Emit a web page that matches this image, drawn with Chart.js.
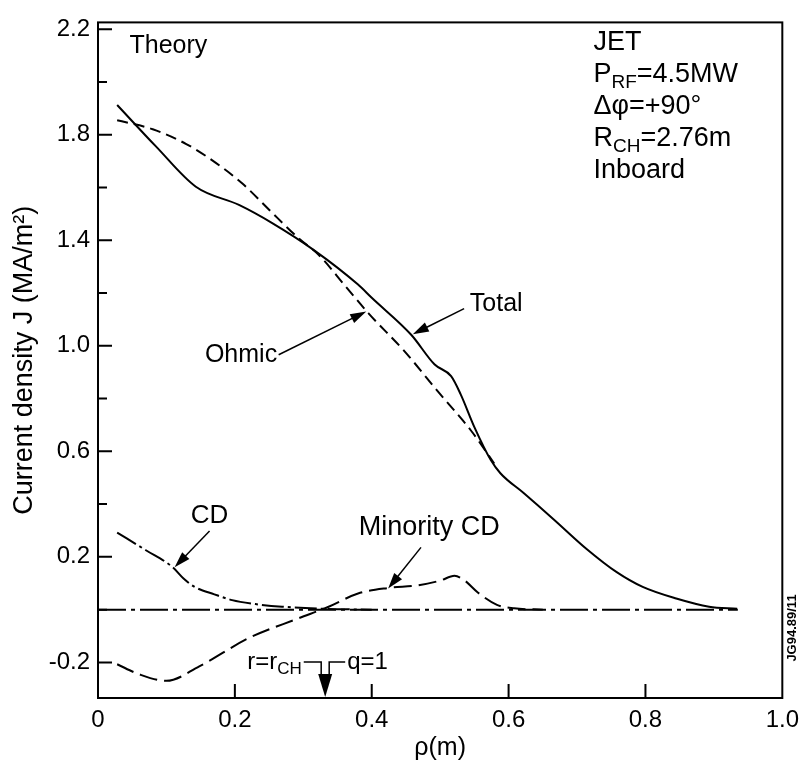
<!DOCTYPE html>
<html>
<head>
<meta charset="utf-8">
<script src="https://cdn.jsdelivr.net/npm/chart.js@4.4.0/dist/chart.umd.min.js"></script>
<style>
html,body{margin:0;padding:0;background:#fff;}
canvas{display:block;}
</style>
</head>
<body>
<canvas id="grafica" width="807" height="765"></canvas>
<script>
const FUENTE = '"Liberation Sans", Arial, sans-serif';

// ejes
const xTicks = [0, 0.2, 0.4, 0.6, 0.8, 1.0];
const yLabels = [-0.2, 0.2, 0.6, 1.0, 1.4, 1.8, 2.2];
const yMinor = [0, 0.4, 0.8, 1.2, 1.6, 2.0];

// Total (solida)
const rhoTotal = [0.028, 0.085, 0.143, 0.206, 0.254, 0.317, 0.38, 0.40, 0.458, 0.492, 0.516, 0.530, 0.550, 0.574, 0.588, 0.622, 0.666, 0.714, 0.758, 0.796, 0.845, 0.893, 0.934];
const jTotal   = [1.913, 1.755, 1.603, 1.534, 1.466, 1.360, 1.232, 1.182, 1.041, 0.929, 0.885, 0.816, 0.692, 0.567, 0.517, 0.442, 0.342, 0.230, 0.142, 0.086, 0.042, 0.011, 0.003];

// Ohmic (discontinua)
const rhoOhmic = [0.028, 0.080, 0.129, 0.167, 0.211, 0.250, 0.293, 0.322, 0.361, 0.395, 0.448, 0.496, 0.545, 0.579];
const jOhmic   = [1.855, 1.821, 1.765, 1.703, 1.615, 1.516, 1.408, 1.346, 1.228, 1.124, 0.979, 0.829, 0.679, 0.554];

// CD (raya-punto)
const rhoCD = [0.028, 0.07, 0.109, 0.125, 0.142, 0.17, 0.196, 0.23, 0.269, 0.332, 0.40];
const jCD   = [0.292, 0.225, 0.161, 0.118, 0.085, 0.058, 0.036, 0.021, 0.011, 0.003, 0.0];

// Minority CD (rayas largas)
const rhoMin = [0.028, 0.06, 0.10, 0.148, 0.221, 0.293, 0.337, 0.380, 0.424, 0.467, 0.500, 0.521, 0.535, 0.555, 0.583, 0.608, 0.65];
const jMin   = [-0.207, -0.245, -0.27, -0.215, -0.107, -0.033, 0.011, 0.061, 0.082, 0.092, 0.110, 0.128, 0.112, 0.065, 0.018, 0.005, 0.0];

// linea de cero
const rhoCero = [0, 0.935];
const jCero = [0, 0];

// flechas: [xCola, yCola, xPunta, yPunta]
const flechas = [
  [0.264, 0.966, 0.392, 1.13],   // Ohmic
  [0.535, 1.141, 0.460, 1.044],  // Total
  [0.163, 0.298, 0.112, 0.161],  // CD
  [0.472, 0.236, 0.424, 0.080]   // Minority CD
];

// etiquetas: [texto, x, y, alineacion, tamaño]
const etiquetas = [
  ['Theory', 0.046, 2.135, 'left', 25],
  ['Ohmic', 0.209, 0.966, 'center', 25],
  ['Total', 0.582, 1.160, 'center', 25],
  ['CD', 0.163, 0.355, 'center', 26],
  ['Minority CD', 0.484, 0.310, 'center', 27]
];

// bloque JET (partes con subindice)
const bloqueJET = [
  [['JET']],
  [['P'], ['RF', 1], ['=4.5MW']],
  [['Δφ=+90°']],
  [['R'], ['CH', 1], ['=2.76m']],
  [['Inboard']]
];
const rCH = 0.332;

function puntos(xs, ys) {
  return xs.map((x, i) => ({ x: x, y: ys[i] }));
}

function textoSub(ctx, partes, x, y, tam) {
  let cx = x;
  partes.forEach(p => {
    const sub = p[1] === 1;
    ctx.font = (sub ? Math.round(tam * 0.72) : tam) + 'px ' + FUENTE;
    ctx.fillText(p[0], cx, sub ? y + tam * 0.3 : y);
    cx += ctx.measureText(p[0]).width;
  });
  return cx;
}

function flecha(ctx, x1, y1, x2, y2, largo, ancho) {
  const ang = Math.atan2(y2 - y1, x2 - x1);
  ctx.beginPath();
  ctx.moveTo(x1, y1);
  ctx.lineTo(x2 - Math.cos(ang) * largo * 0.8, y2 - Math.sin(ang) * largo * 0.8);
  ctx.stroke();
  ctx.beginPath();
  ctx.moveTo(x2, y2);
  ctx.lineTo(x2 - Math.cos(ang) * largo + Math.sin(ang) * ancho, y2 - Math.sin(ang) * largo - Math.cos(ang) * ancho);
  ctx.lineTo(x2 - Math.cos(ang) * largo - Math.sin(ang) * ancho, y2 - Math.sin(ang) * largo + Math.cos(ang) * ancho);
  ctx.closePath();
  ctx.fill();
}

const anotaciones = {
  id: 'anotaciones',
  afterDraw(chart) {
    const { ctx, chartArea: ca, scales: { x, y } } = chart;
    ctx.save();
    ctx.strokeStyle = '#000';
    ctx.fillStyle = '#000';

    // marco
    ctx.lineWidth = 2;
    ctx.strokeRect(ca.left, ca.top, ca.right - ca.left, ca.bottom - ca.top);

    // ticks hacia dentro
    ctx.beginPath();
    yLabels.forEach(v => {
      const py = y.getPixelForValue(v);
      ctx.moveTo(ca.left, py); ctx.lineTo(ca.left + 14, py);
    });
    yMinor.forEach(v => {
      const py = y.getPixelForValue(v);
      ctx.moveTo(ca.left, py); ctx.lineTo(ca.left + 9, py);
    });
    xTicks.slice(1, -1).forEach(v => {
      const px = x.getPixelForValue(v);
      ctx.moveTo(px, ca.bottom); ctx.lineTo(px, ca.bottom - 14);
    });
    ctx.stroke();

    // flechas
    ctx.lineWidth = 1.5;
    flechas.forEach(f => {
      flecha(ctx, x.getPixelForValue(f[0]), y.getPixelForValue(f[1]),
        x.getPixelForValue(f[2]), y.getPixelForValue(f[3]), 16, 5);
    });

    // textos
    ctx.textBaseline = 'middle';
    etiquetas.forEach(e => {
      ctx.font = e[4] + 'px ' + FUENTE;
      ctx.textAlign = e[3];
      ctx.fillText(e[0], x.getPixelForValue(e[1]), y.getPixelForValue(e[2]));
    });

    ctx.textAlign = 'left';
    const jx = x.getPixelForValue(0.724);
    bloqueJET.forEach((linea, i) => {
      textoSub(ctx, linea, jx, ca.top + 20 + i * 32, 27);
    });

    // r = r_CH y q = 1
    const ax = x.getPixelForValue(rCH);
    const ly = ca.bottom - 36;
    const fin = textoSub(ctx, [['r=r'], ['CH', 1]], ax - 78, ly, 24);
    ctx.lineWidth = 1.5;
    ctx.beginPath();
    ctx.moveTo(fin + 2, ly); ctx.lineTo(ax - 4, ly); ctx.lineTo(ax - 4, ly + 16);
    ctx.moveTo(ax + 4, ly + 16); ctx.lineTo(ax + 4, ly); ctx.lineTo(ax + 20, ly);
    ctx.stroke();
    ctx.beginPath();
    ctx.moveTo(ax - 7, ly + 12); ctx.lineTo(ax + 7, ly + 12); ctx.lineTo(ax, ca.bottom - 1);
    ctx.closePath();
    ctx.fill();
    ctx.font = '24px ' + FUENTE;
    ctx.fillText('q=1', ax + 22, ly);

    // codigo de figura
    ctx.save();
    ctx.translate(ca.right + 10, ca.bottom - 70);
    ctx.rotate(-Math.PI / 2);
    ctx.font = 'bold 13px ' + FUENTE;
    ctx.textAlign = 'center';
    ctx.textBaseline = 'middle';
    ctx.fillText('JG94.89/11', 0, 0);
    ctx.restore();

    ctx.restore();
  }
};

const estilo = (datos, dash) => ({
  data: datos,
  borderColor: '#000',
  borderWidth: 2,
  borderDash: dash,
  pointRadius: 0,
  fill: false,
  cubicInterpolationMode: 'monotone'
});

new Chart(document.getElementById('grafica').getContext('2d'), {
  type: 'line',
  data: {
    datasets: [
      estilo(puntos(rhoCero, jCero), [28, 5, 4, 5]),
      estilo(puntos(rhoTotal, jTotal), []),
      estilo(puntos(rhoOhmic, jOhmic), [11, 6]),
      estilo(puntos(rhoCD, jCD), [22, 4, 3, 4]),
      estilo(puntos(rhoMin, jMin), [18, 7])
    ]
  },
  options: {
    responsive: false,
    animation: false,
    devicePixelRatio: 1,
    layout: { padding: { top: 14, right: 20, left: 0, bottom: 0 } },
    plugins: { legend: { display: false }, tooltip: { enabled: false } },
    scales: {
      x: {
        type: 'linear', min: 0, max: 1.0,
        afterBuildTicks: s => { s.ticks = xTicks.map(v => ({ value: v })); },
        afterFit: s => { s.height = 67; },
        grid: { display: false, drawTicks: false },
        border: { display: false },
        ticks: {
          padding: 8, color: '#000', maxRotation: 0, autoSkip: false,
          font: { size: 24, family: FUENTE },
          callback: v => v === 0 ? '0' : v.toFixed(1)
        },
        title: { display: true, text: 'ρ(m)', color: '#000', font: { size: 25, family: FUENTE }, padding: { top: 0, bottom: 2 } }
      },
      y: {
        type: 'linear', min: -0.335, max: 2.226,
        afterBuildTicks: s => { s.ticks = yLabels.map(v => ({ value: v })); },
        afterFit: s => { s.width = 98; },
        grid: { display: false, drawTicks: false },
        border: { display: false },
        ticks: {
          padding: 8, color: '#000', autoSkip: false,
          font: { size: 24, family: FUENTE },
          callback: v => v.toFixed(1)
        },
        title: { display: true, text: 'Current density J (MA/m²)', color: '#000', font: { size: 27, family: FUENTE }, padding: { top: 8, bottom: 0 } }
      }
    }
  },
  plugins: [anotaciones]
});
</script>
</body>
</html>
